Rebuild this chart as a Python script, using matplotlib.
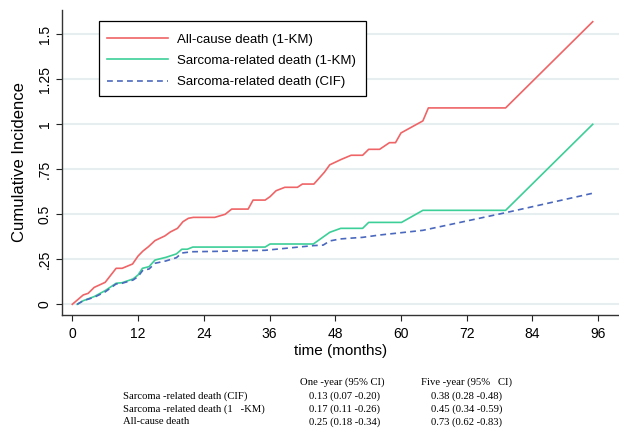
import matplotlib
matplotlib.use("Agg")
import matplotlib.pyplot as plt
from matplotlib.patches import Rectangle

plt.rcParams['font.family'] = ['Liberation Sans', 'DejaVu Sans']

# ---- data ----
allcause_t = [0, 2.0, 2.9, 4.0, 6.0, 8.0, 9.1, 11.0, 12.0, 12.9, 13.9, 15.1, 16.9, 17.9,
              19.2, 20.2, 21.2, 22.1, 26.0, 27.9, 29.1, 32.1, 33.0, 35.2, 36.1, 37.2,
              38.8, 41.1, 42.0, 44.1, 46.0, 47.0, 49.1, 50.9, 53.0, 54.1, 56.1, 57.9,
              59.0, 60.0, 64.0, 65.0, 79.1, 95.0]
allcause_v = [0, 0.052, 0.061, 0.094, 0.122, 0.200, 0.200, 0.224, 0.268, 0.296, 0.320,
              0.354, 0.380, 0.402, 0.422, 0.459, 0.478, 0.483, 0.483, 0.500, 0.529,
              0.529, 0.579, 0.579, 0.598, 0.631, 0.650, 0.650, 0.668, 0.668, 0.733,
              0.775, 0.805, 0.828, 0.828, 0.861, 0.861, 0.898, 0.898, 0.952, 1.019,
              1.091, 1.091, 1.570]

sarc_km_t = [0.9, 2.0, 4.0, 6.0, 8.0, 9.1, 11.1, 12.0, 12.8, 14.0, 15.1, 17.1, 19.0,
             20.0, 21.0, 22.0, 35.2, 36.1, 44.0, 47.0, 49.0, 53.0, 54.1, 60.1, 64.0,
             79.1, 95.0]
sarc_km_v = [0, 0.020, 0.043, 0.076, 0.117, 0.120, 0.141, 0.163, 0.200, 0.209, 0.246,
             0.261, 0.280, 0.306, 0.306, 0.318, 0.318, 0.335, 0.335, 0.400, 0.422,
             0.422, 0.455, 0.455, 0.522, 0.522, 1.000]

sarc_cif_t = [0.9, 2.0, 4.0, 6.0, 8.0, 9.1, 11.1, 12.0, 12.9, 14.0, 15.1, 17.1, 19.0,
              20.0, 21.8, 26.0, 35.2, 44.0, 45.8, 47.0, 48.9, 50.6, 53.0, 56.1, 60.1,
              64.0, 79.1, 95.0]
sarc_cif_v = [0, 0.020, 0.039, 0.069, 0.113, 0.117, 0.135, 0.154, 0.190, 0.196, 0.228,
              0.241, 0.259, 0.285, 0.292, 0.294, 0.300, 0.326, 0.329, 0.352, 0.363,
              0.367, 0.372, 0.385, 0.398, 0.411, 0.509, 0.617]

series_labels = ["All-cause death (1-KM)", "Sarcoma-related death (1-KM)",
                 "Sarcoma-related death (CIF)"]

x_ticks = [0, 12, 24, 36, 48, 60, 72, 84, 96]
y_ticks = [0, 0.25, 0.5, 0.75, 1, 1.25, 1.5]
y_ticklabels = ["0", ".25", "0.5", ".75", "1", "1.25", "1.5"]

table_header = ["One -year (95% CI)", "Five -year (95%   CI)"]
table_rows = ["Sarcoma -related death (CIF)", "Sarcoma -related death (1   -KM)",
              "All-cause death"]
table_one = ["0.13 (0.07 -0.20)", "0.17 (0.11 -0.26)", "0.25 (0.18 -0.34)"]
table_five = ["0.38 (0.28 -0.48)", "0.45 (0.34 -0.59)", "0.73 (0.62 -0.83)"]

# ---- figure ----
W, H = 619, 429
fig = plt.figure(figsize=(W / 100, H / 100), dpi=100)
ax = fig.add_axes([62 / W, (H - 315) / H, 1 - 62 / W, (315 - 10) / H])

red = "#ef6466"
green = "#3ccf98"
blue = "#4a68bd"

ax.plot(allcause_t, allcause_v, color=red, lw=1.2, label=series_labels[0])
ax.plot(sarc_km_t, sarc_km_v, color=green, lw=1.2, label=series_labels[1])
ax.plot(sarc_cif_t, sarc_cif_v, color=blue, lw=1.2, ls=(0, (3.5, 2.5)),
        label=series_labels[2])

ax.set_xlim(-1.88, 99.8)
ax.set_ylim(-0.0594, 1.635)
ax.set_xticks(x_ticks)
ax.set_yticks(y_ticks)
ax.set_yticklabels(y_ticklabels, rotation=90, va='center')
ax.tick_params(axis='both', labelsize=10, length=4.3, width=0.8, colors='#222222',
               labelcolor='black')
ax.tick_params(axis='x', pad=4)
ax.tick_params(axis='y', pad=3)
ax.grid(axis='y', color='#e6eef0', lw=1.5)
ax.set_axisbelow(True)
for s in ['top', 'right']:
    ax.spines[s].set_visible(False)
for s in ['left', 'bottom']:
    ax.spines[s].set_color('#333333')
    ax.spines[s].set_linewidth(1.0)

ax.set_xlabel("time (months)", fontsize=11, labelpad=2.5)
ax.set_ylabel("Cumulative Incidence", fontsize=12, labelpad=8)

# legend: frameless, with a separately drawn box
box = Rectangle((99 / W, 1 - 96 / H), (366 - 99) / W, (96 - 21) / H,
                transform=fig.transFigure, fill=True, facecolor='white',
                edgecolor='black', lw=0.9, zorder=4, clip_on=False)
ax.add_patch(box)
leg = ax.legend(loc='upper left', bbox_to_anchor=(107 / W, 1 - 33.5 / H),
                bbox_transform=fig.transFigure, frameon=False,
                fontsize=9.5, handlelength=4.6,
                handletextpad=0.72, borderpad=0, labelspacing=0.68,
                borderaxespad=0)
leg.set_zorder(5)

# ---- table ----
tfont = dict(family=['Liberation Serif', 'DejaVu Serif'], fontsize=7.7, va='center')
fig.text(300 / W, 1 - 382 / H, table_header[0], **tfont)
fig.text(421 / W, 1 - 382 / H, table_header[1], **tfont)
for i, (lab, a, b) in enumerate(zip(table_rows, table_one, table_five)):
    y = 1 - (396 + 13 * i) / H
    fig.text(123 / W, y, lab, **tfont)
    fig.text(309 / W, y, a, **tfont)
    fig.text(431 / W, y, b, **tfont)

fig.savefig("out.png", dpi=100)
